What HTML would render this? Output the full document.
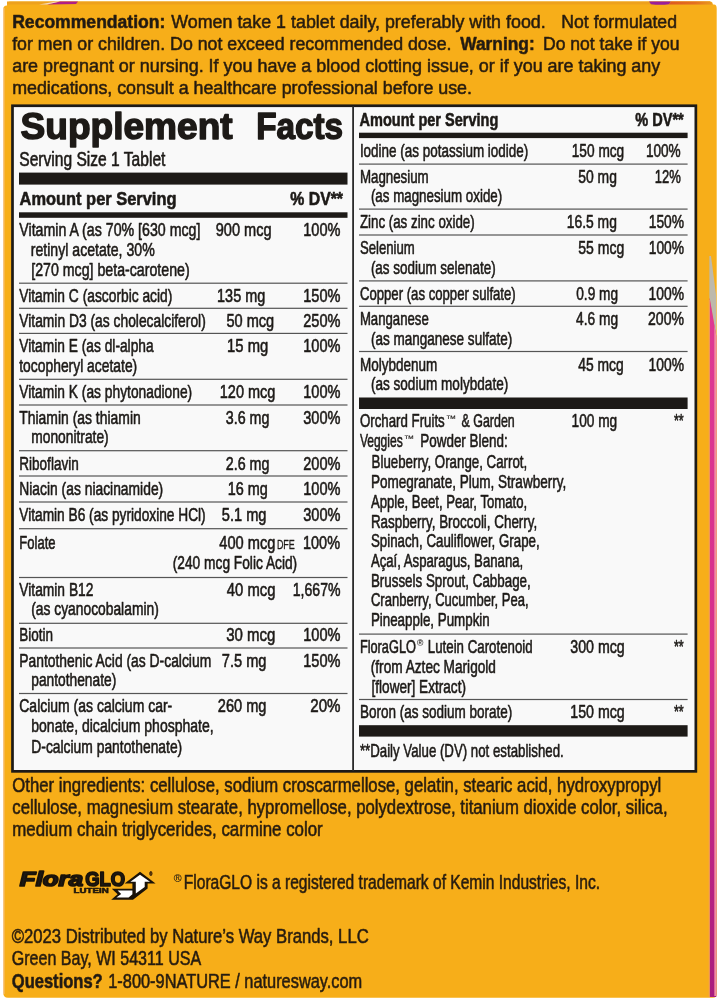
<!DOCTYPE html>
<html lang="en">
<head>
<meta charset="utf-8">
<title>Supplement Facts</title>
<style>
html,body{margin:0;padding:0;background:#fff;}
body{width:720px;height:1000px;overflow:hidden;position:relative;}
svg{position:absolute;left:0;top:0;display:block;}
text{font-family:"Liberation Sans",sans-serif;fill:#1d1a17;white-space:pre;}
.b{font-weight:bold}
.i{font-style:italic}
</style>
</head>
<body>
<svg width="720" height="1000" viewBox="0 0 720 1000">
<rect x="0" y="0" width="720" height="1000" fill="#ffffff"/>
<path d="M3.3 9 Q3.3 5.5 7 5.5 L7 4.5 Q7 1.5 10 1.5 L710 1.5 Q712.8 1.5 712.8 4.6 L714 4.6 Q716.7 4.6 716.7 8.5 L716.7 994 Q716.7 997.8 713 997.8 L8 997.8 Q3.3 997.8 3.3 993 Z" fill="#F7AE19"/>
<path d="M7 1.5 L710 1.5 L712.6 4.4 L7 4.4 Z" fill="#EDA11E"/>
<path d="M47 4.4 L60 1.6 L78 1.6 L76 4 Z" fill="#B01E86"/>
<path d="M39 4.4 L56 1.6 L60 1.6 L47 4.4 Z" fill="#F3D9C0"/>
<path d="M649 1.5 L671 1.5 L669 4.2 Q660 5.4 651 4.2 Z" fill="#9A1E98"/>
<path d="M671 1.5 L710 1.5 L712.6 4.4 L669 4.4 Z" fill="url(#og)"/>
<rect x="3.3" y="8" width="1.1" height="986" fill="#F7C592"/>
<path d="M709.4 256 L711 256 L716.2 296 L716.2 336 L709.4 297.6 Z" fill="#BDB9AC"/>
<path d="M709.6 297.6 L716.3 336 L716.3 997 L709.6 997 Z" fill="url(#pk)"/>
<path d="M714.3 325 L716.3 336 L716.3 996 L714.3 996 Z" fill="#F08CA2"/>
<rect x="708.8" y="300" width="0.9" height="697" fill="#F5A060"/>
<defs><linearGradient id="og" x1="0" y1="0" x2="1" y2="0"><stop offset="0" stop-color="#DD5A22"/><stop offset="0.6" stop-color="#E4701F"/><stop offset="1" stop-color="#E99A20"/></linearGradient><linearGradient id="pk" x1="0" y1="0" x2="0" y2="1"><stop offset="0" stop-color="#DE3A94"/><stop offset="0.5" stop-color="#D62E8C"/><stop offset="1" stop-color="#A81C7E"/></linearGradient></defs>
<rect x="12.5" y="105.75" width="683.35" height="665.6" fill="#f9f9f9" stroke="#1d1a17" stroke-width="2.7"/>
<rect x="19.0" y="172.6" width="328.5" height="12.0" fill="#1d1a17"/>
<rect x="19.0" y="212.3" width="328.5" height="5.5" fill="#1d1a17"/>
<rect x="19.0" y="282.6" width="328.5" height="1.2" fill="#555555"/>
<rect x="19.0" y="307.7" width="328.5" height="1.2" fill="#555555"/>
<rect x="19.0" y="332.8" width="328.5" height="1.2" fill="#555555"/>
<rect x="19.0" y="378.7" width="328.5" height="1.2" fill="#555555"/>
<rect x="19.0" y="404.4" width="328.5" height="1.2" fill="#555555"/>
<rect x="19.0" y="450.1" width="328.5" height="1.2" fill="#555555"/>
<rect x="19.0" y="475.4" width="328.5" height="1.2" fill="#555555"/>
<rect x="19.0" y="501.4" width="328.5" height="1.2" fill="#555555"/>
<rect x="19.0" y="528.1" width="328.5" height="1.2" fill="#555555"/>
<rect x="19.0" y="576.9" width="328.5" height="1.2" fill="#555555"/>
<rect x="19.0" y="622.7" width="328.5" height="1.2" fill="#555555"/>
<rect x="19.0" y="647.4" width="328.5" height="1.2" fill="#555555"/>
<rect x="19.0" y="692.9" width="328.5" height="1.2" fill="#555555"/>
<rect x="359.0" y="132.7" width="328.6" height="5.4" fill="#1d1a17"/>
<rect x="359.0" y="163.5" width="328.6" height="1.2" fill="#555555"/>
<rect x="359.0" y="208.5" width="328.6" height="1.2" fill="#555555"/>
<rect x="359.0" y="234.4" width="328.6" height="1.2" fill="#555555"/>
<rect x="359.0" y="280.3" width="328.6" height="1.2" fill="#555555"/>
<rect x="359.0" y="305.7" width="328.6" height="1.2" fill="#555555"/>
<rect x="359.0" y="350.9" width="328.6" height="1.2" fill="#555555"/>
<rect x="359.0" y="633.5" width="328.6" height="1.2" fill="#555555"/>
<rect x="359.0" y="698.9" width="328.6" height="1.2" fill="#555555"/>
<rect x="359.0" y="397.5" width="328.6" height="11.5" fill="#1d1a17"/>
<rect x="359.0" y="725.2" width="328.6" height="11.4" fill="#1d1a17"/>
<rect x="352.2" y="106.0" width="1.8" height="665.0" fill="#2a2a2a"/>
<text x="12.18" y="27.6" font-size="19.1" class="b" fill="#3a2408" stroke="#3a2408" stroke-width="0.6" stroke-linejoin="round" textLength="153.22" lengthAdjust="spacingAndGlyphs">Recommendation:</text>
<text x="171.28" y="27.6" font-size="19.1" fill="#3a2408" stroke="#3a2408" stroke-width="0.6" stroke-linejoin="round" textLength="374.44" lengthAdjust="spacingAndGlyphs">Women take 1 tablet daily, preferably with food.</text>
<text x="561.27" y="27.6" font-size="19.1" fill="#3a2408" stroke="#3a2408" stroke-width="0.6" stroke-linejoin="round" textLength="115.73" lengthAdjust="spacingAndGlyphs">Not formulated</text>
<text x="12.18" y="49.9" font-size="19.1" fill="#3a2408" stroke="#3a2408" stroke-width="0.6" stroke-linejoin="round" textLength="439.27" lengthAdjust="spacingAndGlyphs">for men or children. Do not exceed recommended dose.</text>
<text x="460.27" y="49.9" font-size="19.1" class="b" fill="#3a2408" stroke="#3a2408" stroke-width="0.6" stroke-linejoin="round" textLength="74.46" lengthAdjust="spacingAndGlyphs">Warning:</text>
<text x="542.98" y="49.9" font-size="19.1" fill="#3a2408" stroke="#3a2408" stroke-width="0.6" stroke-linejoin="round" textLength="136.59" lengthAdjust="spacingAndGlyphs">Do not take if you</text>
<text x="12.18" y="72.1" font-size="19.1" fill="#3a2408" stroke="#3a2408" stroke-width="0.6" stroke-linejoin="round" textLength="648.12" lengthAdjust="spacingAndGlyphs">are pregnant or nursing. If you have a blood clotting issue, or if you are taking any</text>
<text x="12.18" y="94.4" font-size="19.1" fill="#3a2408" stroke="#3a2408" stroke-width="0.6" stroke-linejoin="round" textLength="459.82" lengthAdjust="spacingAndGlyphs">medications, consult a healthcare professional before use.</text>
<text x="20.55" y="139.4" font-size="37.8" class="b" stroke="#1d1a17" stroke-width="1.5" stroke-linejoin="round" textLength="212.12" lengthAdjust="spacingAndGlyphs">Supplement</text>
<text x="256.15" y="139.4" font-size="37.8" class="b" stroke="#1d1a17" stroke-width="1.5" stroke-linejoin="round" textLength="86.98" lengthAdjust="spacingAndGlyphs">Facts</text>
<text x="19.27" y="165.7" font-size="19.6" stroke="#1d1a17" stroke-width="0.6" stroke-linejoin="round" textLength="146.17" lengthAdjust="spacingAndGlyphs">Serving Size 1 Tablet</text>
<text x="19.57" y="205.0" font-size="19.0" class="b" stroke="#1d1a17" stroke-width="0.6" stroke-linejoin="round" textLength="156.88" lengthAdjust="spacingAndGlyphs">Amount per Serving</text>
<text x="290.27" y="205.0" font-size="19.0" class="b" stroke="#1d1a17" stroke-width="0.6" stroke-linejoin="round" textLength="52.74" lengthAdjust="spacingAndGlyphs">% DV**</text>
<text x="19.27" y="236.4" font-size="19.0" stroke="#1d1a17" stroke-width="0.6" stroke-linejoin="round" textLength="181.17" lengthAdjust="spacingAndGlyphs">Vitamin A (as 70% [630 mcg]</text>
<text x="215.78" y="236.4" font-size="19.0" stroke="#1d1a17" stroke-width="0.6" stroke-linejoin="round" textLength="55.86" lengthAdjust="spacingAndGlyphs">900 mcg</text>
<text x="303.27" y="236.4" font-size="19.0" stroke="#1d1a17" stroke-width="0.6" stroke-linejoin="round" textLength="37.22" lengthAdjust="spacingAndGlyphs">100%</text>
<text x="30.77" y="255.9" font-size="19.0" stroke="#1d1a17" stroke-width="0.6" stroke-linejoin="round" textLength="123.92" lengthAdjust="spacingAndGlyphs">retinyl acetate, 30%</text>
<text x="31.27" y="275.7" font-size="19.0" stroke="#1d1a17" stroke-width="0.6" stroke-linejoin="round" textLength="158.42" lengthAdjust="spacingAndGlyphs">[270 mcg] beta-carotene)</text>
<text x="19.27" y="301.7" font-size="19.0" stroke="#1d1a17" stroke-width="0.6" stroke-linejoin="round" textLength="153.07" lengthAdjust="spacingAndGlyphs">Vitamin C (ascorbic acid)</text>
<text x="217.08" y="301.7" font-size="19.0" stroke="#1d1a17" stroke-width="0.6" stroke-linejoin="round" textLength="48.16" lengthAdjust="spacingAndGlyphs">135 mg</text>
<text x="303.27" y="301.7" font-size="19.0" stroke="#1d1a17" stroke-width="0.6" stroke-linejoin="round" textLength="37.22" lengthAdjust="spacingAndGlyphs">150%</text>
<text x="19.27" y="327.1" font-size="19.0" stroke="#1d1a17" stroke-width="0.6" stroke-linejoin="round" textLength="186.48" lengthAdjust="spacingAndGlyphs">Vitamin D3 (as cholecalciferol)</text>
<text x="226.47" y="327.1" font-size="19.0" stroke="#1d1a17" stroke-width="0.6" stroke-linejoin="round" textLength="47.74" lengthAdjust="spacingAndGlyphs">50 mcg</text>
<text x="303.27" y="327.1" font-size="19.0" stroke="#1d1a17" stroke-width="0.6" stroke-linejoin="round" textLength="37.22" lengthAdjust="spacingAndGlyphs">250%</text>
<text x="19.27" y="352.3" font-size="19.0" stroke="#1d1a17" stroke-width="0.6" stroke-linejoin="round" textLength="134.37" lengthAdjust="spacingAndGlyphs">Vitamin E (as dl-alpha</text>
<text x="227.08" y="352.3" font-size="19.0" stroke="#1d1a17" stroke-width="0.6" stroke-linejoin="round" textLength="41.14" lengthAdjust="spacingAndGlyphs">15 mg</text>
<text x="303.27" y="352.3" font-size="19.0" stroke="#1d1a17" stroke-width="0.6" stroke-linejoin="round" textLength="37.22" lengthAdjust="spacingAndGlyphs">100%</text>
<text x="19.27" y="372.3" font-size="19.0" stroke="#1d1a17" stroke-width="0.6" stroke-linejoin="round" textLength="117.95" lengthAdjust="spacingAndGlyphs">tocopheryl acetate)</text>
<text x="19.27" y="398.0" font-size="19.0" stroke="#1d1a17" stroke-width="0.6" stroke-linejoin="round" textLength="172.95" lengthAdjust="spacingAndGlyphs">Vitamin K (as phytonadione)</text>
<text x="219.78" y="398.0" font-size="19.0" stroke="#1d1a17" stroke-width="0.6" stroke-linejoin="round" textLength="55.66" lengthAdjust="spacingAndGlyphs">120 mcg</text>
<text x="303.27" y="398.0" font-size="19.0" stroke="#1d1a17" stroke-width="0.6" stroke-linejoin="round" textLength="37.22" lengthAdjust="spacingAndGlyphs">100%</text>
<text x="19.27" y="423.8" font-size="19.0" stroke="#1d1a17" stroke-width="0.6" stroke-linejoin="round" textLength="121.46" lengthAdjust="spacingAndGlyphs">Thiamin (as thiamin</text>
<text x="225.78" y="423.8" font-size="19.0" stroke="#1d1a17" stroke-width="0.6" stroke-linejoin="round" textLength="43.68" lengthAdjust="spacingAndGlyphs">3.6 mg</text>
<text x="303.27" y="423.8" font-size="19.0" stroke="#1d1a17" stroke-width="0.6" stroke-linejoin="round" textLength="37.22" lengthAdjust="spacingAndGlyphs">300%</text>
<text x="31.27" y="443.2" font-size="19.0" stroke="#1d1a17" stroke-width="0.6" stroke-linejoin="round" textLength="77.44" lengthAdjust="spacingAndGlyphs">mononitrate)</text>
<text x="19.27" y="469.5" font-size="19.0" stroke="#1d1a17" stroke-width="0.6" stroke-linejoin="round" textLength="59.47" lengthAdjust="spacingAndGlyphs">Riboflavin</text>
<text x="225.78" y="469.5" font-size="19.0" stroke="#1d1a17" stroke-width="0.6" stroke-linejoin="round" textLength="43.68" lengthAdjust="spacingAndGlyphs">2.6 mg</text>
<text x="303.27" y="469.5" font-size="19.0" stroke="#1d1a17" stroke-width="0.6" stroke-linejoin="round" textLength="37.22" lengthAdjust="spacingAndGlyphs">200%</text>
<text x="19.27" y="495.3" font-size="19.0" stroke="#1d1a17" stroke-width="0.6" stroke-linejoin="round" textLength="143.93" lengthAdjust="spacingAndGlyphs">Niacin (as niacinamide)</text>
<text x="227.78" y="495.3" font-size="19.0" stroke="#1d1a17" stroke-width="0.6" stroke-linejoin="round" textLength="40.14" lengthAdjust="spacingAndGlyphs">16 mg</text>
<text x="303.27" y="495.3" font-size="19.0" stroke="#1d1a17" stroke-width="0.6" stroke-linejoin="round" textLength="37.22" lengthAdjust="spacingAndGlyphs">100%</text>
<text x="19.27" y="521.2" font-size="19.0" stroke="#1d1a17" stroke-width="0.6" stroke-linejoin="round" textLength="186.42" lengthAdjust="spacingAndGlyphs">Vitamin B6 (as pyridoxine HCl)</text>
<text x="221.78" y="521.2" font-size="19.0" stroke="#1d1a17" stroke-width="0.6" stroke-linejoin="round" textLength="44.68" lengthAdjust="spacingAndGlyphs">5.1 mg</text>
<text x="303.27" y="521.2" font-size="19.0" stroke="#1d1a17" stroke-width="0.6" stroke-linejoin="round" textLength="37.22" lengthAdjust="spacingAndGlyphs">300%</text>
<text x="19.27" y="548.6" font-size="19.0" stroke="#1d1a17" stroke-width="0.6" stroke-linejoin="round" textLength="36.24" lengthAdjust="spacingAndGlyphs">Folate</text>
<text x="219.28" y="548.6" font-size="19.0" stroke="#1d1a17" stroke-width="0.6" stroke-linejoin="round" textLength="56.16" lengthAdjust="spacingAndGlyphs">400 mcg</text>
<text x="303.02" y="548.6" font-size="19.0" stroke="#1d1a17" stroke-width="0.6" stroke-linejoin="round" textLength="36.97" lengthAdjust="spacingAndGlyphs">100%</text>
<text x="276.90" y="548.6" font-size="12.5" stroke="#1d1a17" stroke-width="0.3" stroke-linejoin="round" textLength="17.95" lengthAdjust="spacingAndGlyphs">DFE</text>
<text x="172.78" y="568.7" font-size="19.0" stroke="#1d1a17" stroke-width="0.6" stroke-linejoin="round" textLength="124.43" lengthAdjust="spacingAndGlyphs">(240 mcg Folic Acid)</text>
<text x="19.27" y="595.7" font-size="19.0" stroke="#1d1a17" stroke-width="0.6" stroke-linejoin="round" textLength="74.18" lengthAdjust="spacingAndGlyphs">Vitamin B12</text>
<text x="226.78" y="595.7" font-size="19.0" stroke="#1d1a17" stroke-width="0.6" stroke-linejoin="round" textLength="48.64" lengthAdjust="spacingAndGlyphs">40 mcg</text>
<text x="292.77" y="595.7" font-size="19.0" stroke="#1d1a17" stroke-width="0.6" stroke-linejoin="round" textLength="47.77" lengthAdjust="spacingAndGlyphs">1,667%</text>
<text x="31.27" y="615.0" font-size="19.0" stroke="#1d1a17" stroke-width="0.6" stroke-linejoin="round" textLength="127.48" lengthAdjust="spacingAndGlyphs">(as cyanocobalamin)</text>
<text x="19.27" y="641.4" font-size="19.0" stroke="#1d1a17" stroke-width="0.6" stroke-linejoin="round" textLength="33.77" lengthAdjust="spacingAndGlyphs">Biotin</text>
<text x="226.28" y="641.4" font-size="19.0" stroke="#1d1a17" stroke-width="0.6" stroke-linejoin="round" textLength="49.14" lengthAdjust="spacingAndGlyphs">30 mcg</text>
<text x="303.27" y="641.4" font-size="19.0" stroke="#1d1a17" stroke-width="0.6" stroke-linejoin="round" textLength="37.22" lengthAdjust="spacingAndGlyphs">100%</text>
<text x="19.27" y="667.0" font-size="19.0" stroke="#1d1a17" stroke-width="0.6" stroke-linejoin="round" textLength="191.95" lengthAdjust="spacingAndGlyphs">Pantothenic Acid (as D-calcium</text>
<text x="221.78" y="667.0" font-size="19.0" stroke="#1d1a17" stroke-width="0.6" stroke-linejoin="round" textLength="44.68" lengthAdjust="spacingAndGlyphs">7.5 mg</text>
<text x="303.27" y="667.0" font-size="19.0" stroke="#1d1a17" stroke-width="0.6" stroke-linejoin="round" textLength="37.22" lengthAdjust="spacingAndGlyphs">150%</text>
<text x="31.27" y="685.9" font-size="19.0" stroke="#1d1a17" stroke-width="0.6" stroke-linejoin="round" textLength="84.98" lengthAdjust="spacingAndGlyphs">pantothenate)</text>
<text x="19.27" y="712.0" font-size="19.0" stroke="#1d1a17" stroke-width="0.6" stroke-linejoin="round" textLength="152.97" lengthAdjust="spacingAndGlyphs">Calcium (as calcium car-</text>
<text x="217.78" y="712.0" font-size="19.0" stroke="#1d1a17" stroke-width="0.6" stroke-linejoin="round" textLength="48.66" lengthAdjust="spacingAndGlyphs">260 mg</text>
<text x="310.27" y="712.0" font-size="19.0" stroke="#1d1a17" stroke-width="0.6" stroke-linejoin="round" textLength="30.27" lengthAdjust="spacingAndGlyphs">20%</text>
<text x="31.27" y="732.4" font-size="19.0" stroke="#1d1a17" stroke-width="0.6" stroke-linejoin="round" textLength="182.44" lengthAdjust="spacingAndGlyphs">bonate, dicalcium phosphate,</text>
<text x="31.27" y="752.5" font-size="19.0" stroke="#1d1a17" stroke-width="0.6" stroke-linejoin="round" textLength="150.95" lengthAdjust="spacingAndGlyphs">D-calcium pantothenate)</text>
<text x="359.57" y="126.0" font-size="19.0" class="b" stroke="#1d1a17" stroke-width="0.6" stroke-linejoin="round" textLength="138.68" lengthAdjust="spacingAndGlyphs">Amount per Serving</text>
<text x="635.27" y="126.0" font-size="19.0" class="b" stroke="#1d1a17" stroke-width="0.6" stroke-linejoin="round" textLength="48.44" lengthAdjust="spacingAndGlyphs">% DV**</text>
<text x="359.88" y="157.0" font-size="19.0" stroke="#1d1a17" stroke-width="0.6" stroke-linejoin="round" textLength="168.38" lengthAdjust="spacingAndGlyphs">Iodine (as potassium iodide)</text>
<text x="571.77" y="157.0" font-size="19.0" stroke="#1d1a17" stroke-width="0.6" stroke-linejoin="round" textLength="52.46" lengthAdjust="spacingAndGlyphs">150 mcg</text>
<text x="645.88" y="157.0" font-size="19.0" stroke="#1d1a17" stroke-width="0.6" stroke-linejoin="round" textLength="34.82" lengthAdjust="spacingAndGlyphs">100%</text>
<text x="359.88" y="182.6" font-size="19.0" stroke="#1d1a17" stroke-width="0.6" stroke-linejoin="round" textLength="68.84" lengthAdjust="spacingAndGlyphs">Magnesium</text>
<text x="578.27" y="182.6" font-size="19.0" stroke="#1d1a17" stroke-width="0.6" stroke-linejoin="round" textLength="38.64" lengthAdjust="spacingAndGlyphs">50 mg</text>
<text x="654.67" y="182.6" font-size="19.0" stroke="#1d1a17" stroke-width="0.6" stroke-linejoin="round" textLength="26.07" lengthAdjust="spacingAndGlyphs">12%</text>
<text x="370.88" y="201.8" font-size="19.0" stroke="#1d1a17" stroke-width="0.6" stroke-linejoin="round" textLength="131.32" lengthAdjust="spacingAndGlyphs">(as magnesium oxide)</text>
<text x="359.88" y="227.7" font-size="19.0" stroke="#1d1a17" stroke-width="0.6" stroke-linejoin="round" textLength="114.84" lengthAdjust="spacingAndGlyphs">Zinc (as zinc oxide)</text>
<text x="566.77" y="227.7" font-size="19.0" stroke="#1d1a17" stroke-width="0.6" stroke-linejoin="round" textLength="50.13" lengthAdjust="spacingAndGlyphs">16.5 mg</text>
<text x="648.77" y="227.7" font-size="19.0" stroke="#1d1a17" stroke-width="0.6" stroke-linejoin="round" textLength="35.32" lengthAdjust="spacingAndGlyphs">150%</text>
<text x="359.88" y="254.4" font-size="19.0" stroke="#1d1a17" stroke-width="0.6" stroke-linejoin="round" textLength="54.84" lengthAdjust="spacingAndGlyphs">Selenium</text>
<text x="578.27" y="254.4" font-size="19.0" stroke="#1d1a17" stroke-width="0.6" stroke-linejoin="round" textLength="45.94" lengthAdjust="spacingAndGlyphs">55 mcg</text>
<text x="648.77" y="254.4" font-size="19.0" stroke="#1d1a17" stroke-width="0.6" stroke-linejoin="round" textLength="35.32" lengthAdjust="spacingAndGlyphs">100%</text>
<text x="370.88" y="274.2" font-size="19.0" stroke="#1d1a17" stroke-width="0.6" stroke-linejoin="round" textLength="124.82" lengthAdjust="spacingAndGlyphs">(as sodium selenate)</text>
<text x="359.88" y="299.6" font-size="19.0" stroke="#1d1a17" stroke-width="0.6" stroke-linejoin="round" textLength="155.85" lengthAdjust="spacingAndGlyphs">Copper (as copper sulfate)</text>
<text x="576.27" y="299.6" font-size="19.0" stroke="#1d1a17" stroke-width="0.6" stroke-linejoin="round" textLength="41.78" lengthAdjust="spacingAndGlyphs">0.9 mg</text>
<text x="648.57" y="299.6" font-size="19.0" stroke="#1d1a17" stroke-width="0.6" stroke-linejoin="round" textLength="35.42" lengthAdjust="spacingAndGlyphs">100%</text>
<text x="359.88" y="325.0" font-size="19.0" stroke="#1d1a17" stroke-width="0.6" stroke-linejoin="round" textLength="68.87" lengthAdjust="spacingAndGlyphs">Manganese</text>
<text x="576.07" y="325.0" font-size="19.0" stroke="#1d1a17" stroke-width="0.6" stroke-linejoin="round" textLength="41.98" lengthAdjust="spacingAndGlyphs">4.6 mg</text>
<text x="648.07" y="325.0" font-size="19.0" stroke="#1d1a17" stroke-width="0.6" stroke-linejoin="round" textLength="35.92" lengthAdjust="spacingAndGlyphs">200%</text>
<text x="370.88" y="344.5" font-size="19.0" stroke="#1d1a17" stroke-width="0.6" stroke-linejoin="round" textLength="141.36" lengthAdjust="spacingAndGlyphs">(as manganese sulfate)</text>
<text x="359.88" y="370.7" font-size="19.0" stroke="#1d1a17" stroke-width="0.6" stroke-linejoin="round" textLength="77.35" lengthAdjust="spacingAndGlyphs">Molybdenum</text>
<text x="578.27" y="370.7" font-size="19.0" stroke="#1d1a17" stroke-width="0.6" stroke-linejoin="round" textLength="45.44" lengthAdjust="spacingAndGlyphs">45 mcg</text>
<text x="648.57" y="370.7" font-size="19.0" stroke="#1d1a17" stroke-width="0.6" stroke-linejoin="round" textLength="35.42" lengthAdjust="spacingAndGlyphs">100%</text>
<text x="370.88" y="390.0" font-size="19.0" stroke="#1d1a17" stroke-width="0.6" stroke-linejoin="round" textLength="137.36" lengthAdjust="spacingAndGlyphs">(as sodium molybdate)</text>
<text x="359.88" y="427.4" font-size="19.0" stroke="#1d1a17" stroke-width="0.6" stroke-linejoin="round" textLength="84.85" lengthAdjust="spacingAndGlyphs">Orchard Fruits</text>
<text x="571.57" y="427.4" font-size="19.0" stroke="#1d1a17" stroke-width="0.6" stroke-linejoin="round" textLength="45.66" lengthAdjust="spacingAndGlyphs">100 mg</text>
<text x="445.85" y="422.0" font-size="9.5" stroke="#1d1a17" stroke-width="0.1" stroke-linejoin="round" textLength="10.30" lengthAdjust="spacingAndGlyphs">™</text>
<text x="461.52" y="427.4" font-size="19.0" stroke="#1d1a17" stroke-width="0.6" stroke-linejoin="round" textLength="53.20" lengthAdjust="spacingAndGlyphs">&amp; Garden</text>
<text x="673.88" y="427.4" font-size="19.0" stroke="#1d1a17" stroke-width="0.6" stroke-linejoin="round" textLength="9.83" lengthAdjust="spacingAndGlyphs">**</text>
<text x="359.88" y="447.0" font-size="19.0" stroke="#1d1a17" stroke-width="0.6" stroke-linejoin="round" textLength="42.83" lengthAdjust="spacingAndGlyphs">Veggies</text>
<text x="403.85" y="441.5" font-size="9.5" stroke="#1d1a17" stroke-width="0.1" stroke-linejoin="round" textLength="10.30" lengthAdjust="spacingAndGlyphs">™</text>
<text x="420.27" y="447.0" font-size="19.0" stroke="#1d1a17" stroke-width="0.6" stroke-linejoin="round" textLength="87.44" lengthAdjust="spacingAndGlyphs">Powder Blend:</text>
<text x="371.57" y="467.5" font-size="19.0" stroke="#1d1a17" stroke-width="0.6" stroke-linejoin="round" textLength="155.63" lengthAdjust="spacingAndGlyphs">Blueberry, Orange, Carrot,</text>
<text x="370.88" y="487.5" font-size="19.0" stroke="#1d1a17" stroke-width="0.6" stroke-linejoin="round" textLength="195.38" lengthAdjust="spacingAndGlyphs">Pomegranate, Plum, Strawberry,</text>
<text x="370.88" y="507.6" font-size="19.0" stroke="#1d1a17" stroke-width="0.6" stroke-linejoin="round" textLength="156.33" lengthAdjust="spacingAndGlyphs">Apple, Beet, Pear, Tomato,</text>
<text x="370.88" y="527.5" font-size="19.0" stroke="#1d1a17" stroke-width="0.6" stroke-linejoin="round" textLength="166.36" lengthAdjust="spacingAndGlyphs">Raspberry, Broccoli, Cherry,</text>
<text x="370.88" y="547.4" font-size="19.0" stroke="#1d1a17" stroke-width="0.6" stroke-linejoin="round" textLength="168.83" lengthAdjust="spacingAndGlyphs">Spinach, Cauliflower, Grape,</text>
<text x="370.88" y="567.3" font-size="19.0" stroke="#1d1a17" stroke-width="0.6" stroke-linejoin="round" textLength="152.33" lengthAdjust="spacingAndGlyphs">Açaí, Asparagus, Banana,</text>
<text x="370.88" y="586.7" font-size="19.0" stroke="#1d1a17" stroke-width="0.6" stroke-linejoin="round" textLength="159.87" lengthAdjust="spacingAndGlyphs">Brussels Sprout, Cabbage,</text>
<text x="370.88" y="606.3" font-size="19.0" stroke="#1d1a17" stroke-width="0.6" stroke-linejoin="round" textLength="157.82" lengthAdjust="spacingAndGlyphs">Cranberry, Cucumber, Pea,</text>
<text x="370.88" y="626.0" font-size="19.0" stroke="#1d1a17" stroke-width="0.6" stroke-linejoin="round" textLength="118.85" lengthAdjust="spacingAndGlyphs">Pineapple, Pumpkin</text>
<text x="359.88" y="652.8" font-size="19.0" stroke="#1d1a17" stroke-width="0.6" stroke-linejoin="round" textLength="56.05" lengthAdjust="spacingAndGlyphs">FloraGLO</text>
<text x="570.27" y="652.8" font-size="19.0" stroke="#1d1a17" stroke-width="0.6" stroke-linejoin="round" textLength="54.46" lengthAdjust="spacingAndGlyphs">300 mcg</text>
<text x="416.95" y="646.2" font-size="9.0" stroke="#1d1a17" stroke-width="0.1" stroke-linejoin="round" textLength="6.32" lengthAdjust="spacingAndGlyphs">®</text>
<text x="427.77" y="652.8" font-size="19.0" stroke="#1d1a17" stroke-width="0.6" stroke-linejoin="round" textLength="104.95" lengthAdjust="spacingAndGlyphs">Lutein Carotenoid</text>
<text x="673.88" y="652.8" font-size="19.0" stroke="#1d1a17" stroke-width="0.6" stroke-linejoin="round" textLength="9.83" lengthAdjust="spacingAndGlyphs">**</text>
<text x="370.77" y="672.8" font-size="19.0" stroke="#1d1a17" stroke-width="0.6" stroke-linejoin="round" textLength="125.20" lengthAdjust="spacingAndGlyphs">(from Aztec Marigold</text>
<text x="371.52" y="692.6" font-size="19.0" stroke="#1d1a17" stroke-width="0.6" stroke-linejoin="round" textLength="94.46" lengthAdjust="spacingAndGlyphs">[flower] Extract)</text>
<text x="359.88" y="718.0" font-size="19.0" stroke="#1d1a17" stroke-width="0.6" stroke-linejoin="round" textLength="152.33" lengthAdjust="spacingAndGlyphs">Boron (as sodium borate)</text>
<text x="570.27" y="718.0" font-size="19.0" stroke="#1d1a17" stroke-width="0.6" stroke-linejoin="round" textLength="54.46" lengthAdjust="spacingAndGlyphs">150 mcg</text>
<text x="673.88" y="718.0" font-size="19.0" stroke="#1d1a17" stroke-width="0.6" stroke-linejoin="round" textLength="9.83" lengthAdjust="spacingAndGlyphs">**</text>
<text x="359.88" y="757.4" font-size="19.0" stroke="#1d1a17" stroke-width="0.6" stroke-linejoin="round" textLength="203.83" lengthAdjust="spacingAndGlyphs">**Daily Value (DV) not established.</text>
<text x="12.28" y="792.0" font-size="19.3" fill="#3a2408" stroke="#3a2408" stroke-width="0.6" stroke-linejoin="round" textLength="648.97" lengthAdjust="spacingAndGlyphs">Other ingredients: cellulose, sodium croscarmellose, gelatin, stearic acid, hydroxypropyl</text>
<text x="12.28" y="814.0" font-size="19.3" fill="#3a2408" stroke="#3a2408" stroke-width="0.6" stroke-linejoin="round" textLength="655.27" lengthAdjust="spacingAndGlyphs">cellulose, magnesium stearate, hypromellose, polydextrose, titanium dioxide color, silica,</text>
<text x="12.28" y="835.8" font-size="19.3" fill="#3a2408" stroke="#3a2408" stroke-width="0.6" stroke-linejoin="round" textLength="310.47" lengthAdjust="spacingAndGlyphs">medium chain triglycerides, carmine color</text>
<text x="173.88" y="882.3" font-size="10.5" fill="#3a2408" stroke="#3a2408" stroke-width="0.1" stroke-linejoin="round" textLength="7.87" lengthAdjust="spacingAndGlyphs">®</text>
<text x="183.78" y="888.6" font-size="19.3" fill="#3a2408" stroke="#3a2408" stroke-width="0.6" stroke-linejoin="round" textLength="416.23" lengthAdjust="spacingAndGlyphs">FloraGLO is a registered trademark of Kemin Industries, Inc.</text>
<text x="11.78" y="942.5" font-size="19.3" fill="#3a2408" stroke="#3a2408" stroke-width="0.6" stroke-linejoin="round" textLength="356.93" lengthAdjust="spacingAndGlyphs">©2023 Distributed by Nature’s Way Brands, LLC</text>
<text x="11.78" y="965.0" font-size="19.3" fill="#3a2408" stroke="#3a2408" stroke-width="0.6" stroke-linejoin="round" textLength="189.40" lengthAdjust="spacingAndGlyphs">Green Bay, WI 54311 USA</text>
<text x="11.78" y="987.5" font-size="19.3" class="b" fill="#3a2408" stroke="#3a2408" stroke-width="0.6" stroke-linejoin="round" textLength="90.96" lengthAdjust="spacingAndGlyphs">Questions?</text>
<text x="108.28" y="987.5" font-size="19.3" fill="#3a2408" stroke="#3a2408" stroke-width="0.6" stroke-linejoin="round" textLength="253.94" lengthAdjust="spacingAndGlyphs">1-800-9NATURE / naturesway.com</text>
<text x="19.85" y="886.4" font-size="20.3" class="b i" fill="#1a1208" stroke="#1a1208" stroke-width="1.7" stroke-linejoin="round" textLength="63.20" lengthAdjust="spacingAndGlyphs">Flora</text>
<text x="85.15" y="886.4" font-size="20.3" class="b" fill="#1a1208" stroke="#1a1208" stroke-width="1.7" stroke-linejoin="round" textLength="39.83" lengthAdjust="spacingAndGlyphs">GLO</text>
<text x="73.55" y="893.2" font-size="6.6" class="b" fill="#1a1208" stroke="#1a1208" stroke-width="0.5" stroke-linejoin="round" textLength="35.11" lengthAdjust="spacingAndGlyphs">LUTEIN</text>
<text x="149.58" y="875.8" font-size="4.5" fill="#4a2c08" stroke="#4a2c08" stroke-width="0.6" stroke-linejoin="round" textLength="2.76" lengthAdjust="spacingAndGlyphs">®</text>
<path d="M140 871.8 L155.6 883.6 L147.6 883.6 L147.6 888.4 L133 899.8 L111.2 899.8 L117.6 894.3 L111.8 888.8 L132.4 888.8 L132.4 883.6 L124.6 883.6 Z" fill="#1a1208"/>
<path d="M140 874.8 L150 881.8 L144.7 881.8 L144.7 887 L135.8 893.6 L135.8 881.8 L130.4 881.8 Z" fill="#ffffff"/>
<path d="M117.6 890.5 L132.4 890.5 L132.4 894.2 L128.6 897.4 L116.4 897.4 L121.2 894 Z" fill="#ffffff"/>
</svg>
</body>
</html>
